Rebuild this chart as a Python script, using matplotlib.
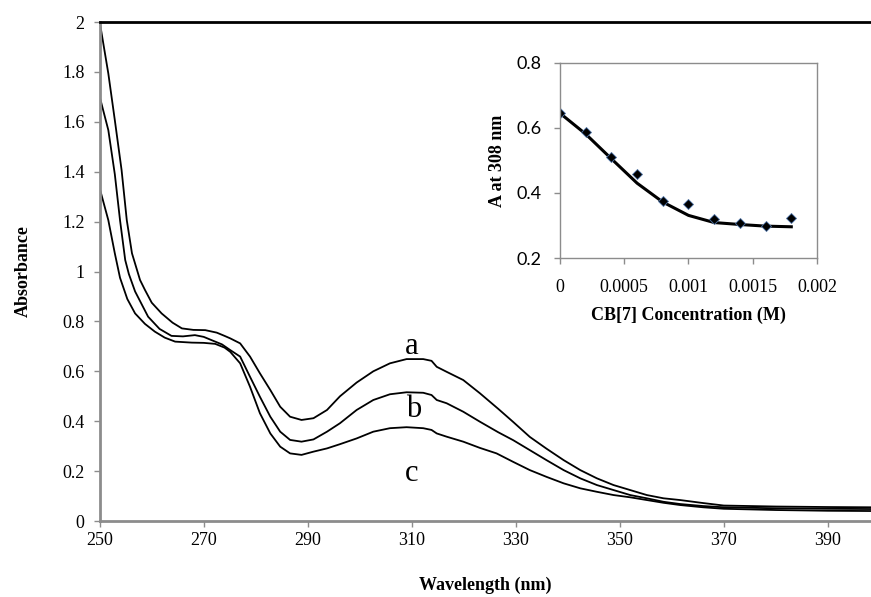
import numpy as np
import matplotlib
matplotlib.use("Agg")
import matplotlib.pyplot as plt

# spectrum a (no CB[7])
wl_a = [250, 251.65, 252.9, 254.2, 255.2, 256.2, 257.75, 258.7, 260.0, 261.9, 264.0, 265.8,
        268.0, 270.3, 272.5, 274.0, 275.1, 277.0, 278.9, 280.8, 282.8, 284.7, 286.6, 288.8,
        291.1, 293.7, 296.2, 299.4, 302.6, 305.8, 309.0, 312.2, 313.8, 314.8, 316.7, 319.9,
        323.1, 326.6, 329.5, 332.7, 335.9, 339.2, 342.4, 345.6, 348.8, 352.0, 355.2, 358.4,
        361.6, 366.0, 370.0, 380.0, 390.0, 398.3]
abs_a = [2.00, 1.794, 1.607, 1.407, 1.206, 1.073, 0.966, 0.926, 0.875, 0.832, 0.795, 0.772,
         0.766, 0.765, 0.755, 0.742, 0.732, 0.712, 0.659, 0.592, 0.525, 0.458, 0.418, 0.405,
         0.412, 0.445, 0.50, 0.555, 0.600, 0.632, 0.649, 0.649, 0.642, 0.618, 0.598, 0.565,
         0.512, 0.45, 0.397, 0.337, 0.29, 0.244, 0.204, 0.171, 0.144, 0.124, 0.104, 0.091,
         0.084, 0.072, 0.062, 0.058, 0.056, 0.055]

# spectrum b
wl_b = [250, 251.65, 252.9, 253.9, 254.9, 255.6, 256.8, 259.3, 261.5, 263.8, 266.0, 268.3,
        270.0, 271.5, 273.5, 275.1, 277.0, 278.9, 280.8, 282.8, 284.7, 286.6, 288.8, 291.1,
        293.7, 296.2, 299.4, 302.6, 305.8, 309.0, 312.2, 313.8, 314.8, 316.7, 319.9, 323.1,
        326.6, 329.5, 332.7, 335.9, 339.2, 342.4, 345.6, 348.8, 352.0, 355.2, 358.4, 361.6,
        366.0, 370.0, 380.0, 390.0, 398.3]
abs_b = [1.70, 1.567, 1.39, 1.206, 1.046, 0.99, 0.92, 0.819, 0.77, 0.742, 0.74, 0.745,
         0.738, 0.725, 0.708, 0.685, 0.659, 0.578, 0.498, 0.418, 0.358, 0.325, 0.318, 0.327,
         0.358, 0.392, 0.445, 0.485, 0.508, 0.516, 0.514, 0.505, 0.485, 0.472, 0.438, 0.398,
         0.356, 0.324, 0.284, 0.244, 0.204, 0.171, 0.144, 0.124, 0.104, 0.091, 0.077, 0.068,
         0.06, 0.055, 0.051, 0.049, 0.048]

# spectrum c
wl_c = [250, 251.65, 252.9, 253.9, 255.3, 256.8, 258.7, 260.6, 262.5, 264.5, 267.7, 270.0,
        272.2, 274.0, 275.1, 277.0, 278.9, 280.8, 282.8, 284.7, 286.6, 288.8, 291.1, 293.7,
        296.2, 299.4, 302.6, 305.8, 309.0, 312.2, 313.8, 314.8, 316.7, 319.9, 323.1, 326.3,
        329.5, 332.7, 335.9, 339.2, 342.4, 345.6, 348.8, 352.0, 355.2, 358.4, 361.6, 366.0,
        370.0, 380.0, 390.0, 398.3]
abs_c = [1.333, 1.206, 1.073, 0.975, 0.89, 0.832, 0.79, 0.759, 0.735, 0.719, 0.715, 0.714,
         0.71, 0.695, 0.678, 0.632, 0.538, 0.432, 0.351, 0.298, 0.271, 0.265, 0.278, 0.291,
         0.308, 0.331, 0.358, 0.372, 0.376, 0.372, 0.365, 0.351, 0.338, 0.318, 0.293, 0.271,
         0.237, 0.204, 0.177, 0.151, 0.131, 0.117, 0.104, 0.095, 0.084, 0.073, 0.064, 0.055,
         0.049, 0.044, 0.041, 0.040]

# inset: titration at 308 nm
conc = [0, 0.0002, 0.0004, 0.0006, 0.0008, 0.001, 0.0012, 0.0014, 0.0016, 0.0018]
a308 = [0.647, 0.586, 0.511, 0.459, 0.374, 0.365, 0.321, 0.308, 0.297, 0.322]
fit_a308 = [0.645, 0.581, 0.505, 0.43, 0.372, 0.331, 0.309, 0.303, 0.298, 0.296]

main_yticks = [0, 0.2, 0.4, 0.6, 0.8, 1, 1.2, 1.4, 1.6, 1.8, 2]
main_ylabels = ["0", "0.2", "0.4", "0.6", "0.8", "1", "1.2", "1.4", "1.6", "1.8", "2"]
main_xticks = [250, 270, 290, 310, 330, 350, 370, 390]
ins_xticks = [0, 0.0005, 0.001, 0.0015, 0.002]
ins_xlabels = ["0", "0.0005", "0.001", "0.0015", "0.002"]
ins_yticks = [0.2, 0.4, 0.6, 0.8]
ins_ylabels = ["0.2", "0.4", "0.6", "0.8"]

serif = "Liberation Serif"
grey = "#8c8c8c"

fig = plt.figure(figsize=(8.71, 5.97), dpi=100)
ax = fig.add_axes([0.1145, 0.1273, 0.8855, 0.8358])

for w, a in [(wl_a, abs_a), (wl_b, abs_b), (wl_c, abs_c)]:
    ax.plot(w, a, color="black", lw=1.3, solid_joinstyle="round")

ax.set_xlim(250, 398.3)
ax.set_ylim(0, 2)
ax.set_xticks(main_xticks)
ax.set_xticklabels([str(t) for t in main_xticks], fontfamily=serif, fontsize=13)
ax.set_yticks(main_yticks)
ax.set_yticklabels(main_ylabels, fontfamily=serif, fontsize=13)
ax.tick_params(axis="y", direction="out", length=4, width=1, color=grey, pad=7)
ax.tick_params(axis="x", direction="out", length=4, width=1, color=grey, pad=4)
ax.spines["right"].set_visible(False)
ax.spines["top"].set_color("black")
ax.spines["top"].set_linewidth(2)
ax.spines["left"].set_color(grey)
ax.spines["left"].set_linewidth(2)
ax.spines["bottom"].set_color(grey)
ax.spines["bottom"].set_linewidth(2)
ax.set_xlabel("Wavelength (nm)", fontfamily=serif, fontweight="bold", fontsize=13, labelpad=20)
ax.set_ylabel("Absorbance", fontfamily=serif, fontweight="bold", fontsize=13, labelpad=22)

ax.text(310.0, 0.70, "a", fontfamily=serif, fontsize=22, ha="center", va="center")
ax.text(310.3, 0.445, "b", fontfamily=serif, fontsize=22, ha="center", va="center")
ax.text(310.0, 0.19, "c", fontfamily=serif, fontsize=22, ha="center", va="center")

# inset
ins = fig.add_axes([0.6429, 0.5678, 0.2951, 0.3271])
ins.plot(conc, fit_a308, color="black", lw=2.2)
ins.plot(conc, a308, linestyle="none", marker="D", markersize=5.5,
         markerfacecolor="black", markeredgecolor="#4f74a8", markeredgewidth=0.6)
ins.set_xlim(0, 0.002)
ins.set_ylim(0.2, 0.8)
ins.set_xticks(ins_xticks)
ins.set_xticklabels(ins_xlabels, fontfamily=serif, fontsize=13)
ins.set_yticks(ins_yticks)
ins.set_yticklabels(ins_ylabels, fontfamily="Lato", fontsize=13)
ins.tick_params(axis="both", direction="out", length=4, width=1, color=grey)
ins.tick_params(axis="x", pad=11)
ins.tick_params(axis="y", pad=9)
for s in ins.spines.values():
    s.set_color(grey)
    s.set_linewidth(1)
ins.set_xlabel("CB[7] Concentration (M)", fontfamily=serif, fontweight="bold", fontsize=13, labelpad=8)
ins.set_ylabel("A at 308 nm", fontfamily=serif, fontweight="bold", fontsize=13, labelpad=8)

fig.savefig("out.png", dpi=100)
